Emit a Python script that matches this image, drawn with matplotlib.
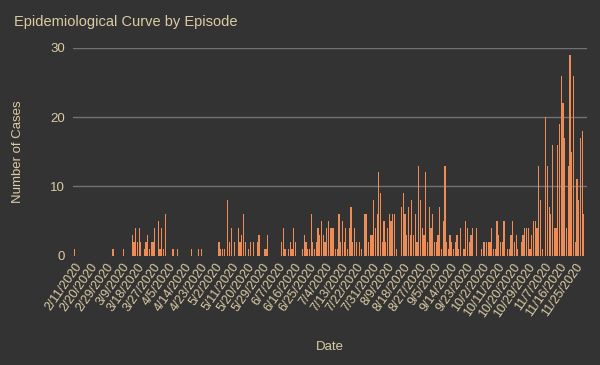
import matplotlib
matplotlib.use("Agg")
import matplotlib.pyplot as plt
import pandas as pd
import numpy as np

# Daily case counts, by month (2020)
feb = [1] + [0] * 18  # 2/11 - 2/29
mar = [0,0,0,1,0,0,0,0,0,1, 0,0,0,0,3,2,4,2,4,2, 0,1,2,3,1,2,2,4,0,5, 1]
apr = [4,1,6,0,0,0,1,1,0,1, 0,0,0,0,0,0,0,1,0,0, 0,1,0,1,0,0,0,0,0,0]
may = [0,0,0,2,1,1,1,0,8,2, 4,0,2,0,4,2,3,6,2,0, 1,2,0,2,0,2,3,0,0,1, 1]
jun = [3,0,0,0,0,0,0,0,2,4, 1,0,1,2,1,4,2,0,0,0, 1,3,2,1,1,6,2,1,2,4]
jul = [3,5,3,2,4,5,4,4,4,1, 1,6,2,5,2,4,1,4,7,2, 4,2,0,2,1,0,6,6,2,3, 3]
aug = [8,4,6,12,9,2,5,2,4,6, 5,6,6,1,0,0,7,9,6,3, 7,3,8,3,6,2,13,8,4,3, 12]
sep = [2,7,4,6,2,2,3,7,1,5, 13,2,1,3,2,1,2,3,1,4, 0,1,5,4,2,3,4,0,4,0]
oct_ = [0,1,2,2,2,2,2,4,1,1, 5,3,2,2,5,0,1,1,3,5, 2,3,1,0,2,3,4,4,4,1, 3]
nov = [5,5,4,13,8,1,0,20,13,7, 6,16,4,4,16,19,26,22,17,4, 13,29,15,26,2,11,8,17,18,6]

cases = feb + mar + apr + may + jun + jul + aug + sep + oct_ + nov
dates = pd.date_range("2020-02-11", periods=len(cases), freq="D")
labels = [f"{d.month}/{d.day}/{d.year}" for d in dates]
label_step = 9
y_ticks = [0, 10, 20, 30]

BG = "#333333"
TXT = "#dccca4"
BAR = "#ee8c57"
GRID = "#727272"
font = "Liberation Sans"

fig = plt.figure(figsize=(6.0, 3.65), dpi=100, facecolor=BG)
ax = fig.add_axes([73.3/600, 1-255.5/365, (587-73.3)/600, (255.5-48)/365])
ax.set_facecolor(BG)

x = np.arange(len(cases))
ax.bar(x, cases, width=0.7, color=BAR, linewidth=0, zorder=3)

ax.set_ylim(0, 30)
ax.set_xlim(-0.9, len(cases) + 0.8)
ax.set_yticks(y_ticks)
ax.set_yticklabels([str(v) for v in y_ticks], fontsize=9.5, color=TXT, family=font)
for v in y_ticks[1:]:
    ax.axhline(v, color=GRID, linewidth=1, zorder=1)

tick_idx = x[::label_step]
ax.set_xticks(tick_idx)
ax.set_xticklabels([labels[i] for i in tick_idx], rotation=55, ha="right",
                   rotation_mode="anchor", fontsize=9, color=TXT, family=font)
ax.tick_params(axis="both", length=0)
ax.tick_params(axis="y", pad=6)
ax.tick_params(axis="x", pad=4)
for s in ax.spines.values():
    s.set_visible(False)

fig.text(14/600, 1-26/365, "Epidemiological Curve by Episode", fontsize=10.5,
         color=TXT, family=font, ha="left", va="baseline")
fig.text(18/600, 1-152/365, "Number of Cases", fontsize=9.5, color=TXT,
         family=font, rotation=90, ha="center", va="center")
fig.text(330/600, 1-347/365, "Date", fontsize=9.5, color=TXT, family=font,
         ha="center", va="center")

fig.savefig("out.png", dpi=100, facecolor=BG)
